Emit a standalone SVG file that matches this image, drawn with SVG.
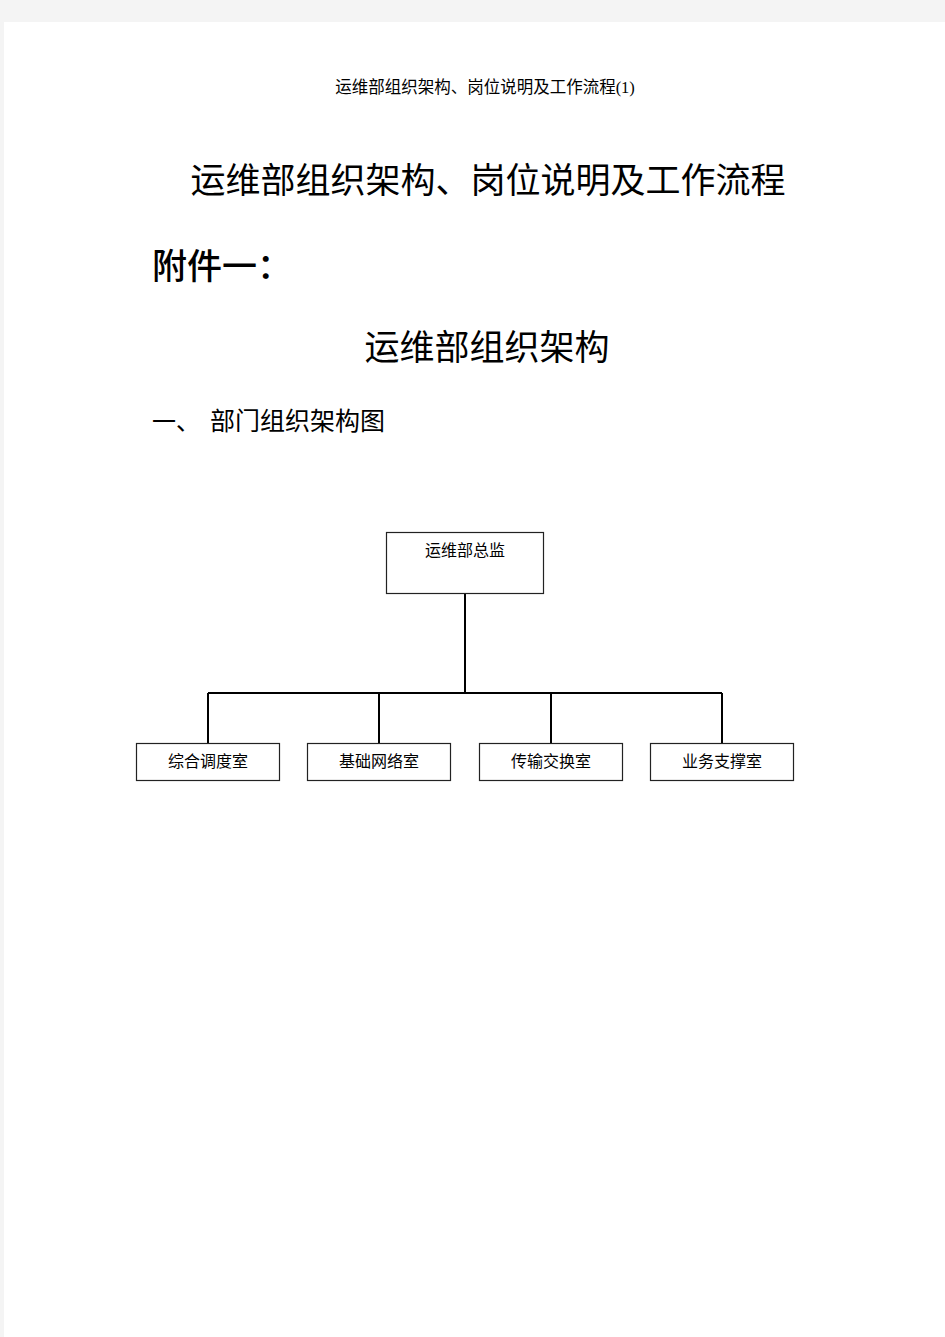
<svg xmlns="http://www.w3.org/2000/svg" width="945" height="1337" viewBox="0 0 945 1337">
<style>
.t{font-family:"Noto Sans CJK SC","Liberation Serif",serif;fill:#000}
.box{fill:#fff;stroke:#222;stroke-width:1.2}
.lbl{font-family:"Noto Sans CJK SC","Liberation Sans",sans-serif;font-size:16px;fill:#000;text-anchor:middle}
.conn{stroke:#000;stroke-width:2;fill:none}
</style>
<rect x="0" y="0" width="945" height="1337" fill="#f4f4f4"/>
<rect x="4" y="22" width="941" height="1315" fill="#fff"/>
<text class="t" x="485" y="93" font-size="16.5" text-anchor="middle">运维部组织架构、岗位说明及工作流程<tspan font-family="Liberation Serif">(1)</tspan></text>
<text class="t" x="488" y="193" font-size="35" text-anchor="middle">运维部组织架构、岗位说明及工作流程</text>
<text class="t" x="152" y="279" font-size="35" font-weight="500">附件一：</text>
<text class="t" x="487" y="360" font-size="35" text-anchor="middle">运维部组织架构</text>
<text class="t" x="152" y="430" font-size="24">一、 <tspan x="210" font-size="25">部门组织架构图</tspan></text>
<g id="connectors">
<path class="conn" d="M465 594V693M208 693H722M208 693V743M379 693V743M551 693V743M722 693V743"/>
</g>
<g id="n0"><rect class="box" x="386.5" y="532.5" width="157" height="61"/><text class="lbl" x="465" y="556">运维部总监</text></g>
<g id="n1"><rect class="box" x="136.5" y="743.5" width="143" height="37"/><text class="lbl" x="208" y="767">综合调度室</text></g>
<g id="n2"><rect class="box" x="307.5" y="743.5" width="143" height="37"/><text class="lbl" x="379" y="767">基础网络室</text></g>
<g id="n3"><rect class="box" x="479.5" y="743.5" width="143" height="37"/><text class="lbl" x="551" y="767">传输交换室</text></g>
<g id="n4"><rect class="box" x="650.5" y="743.5" width="143" height="37"/><text class="lbl" x="722" y="767">业务支撑室</text></g>
</svg>
